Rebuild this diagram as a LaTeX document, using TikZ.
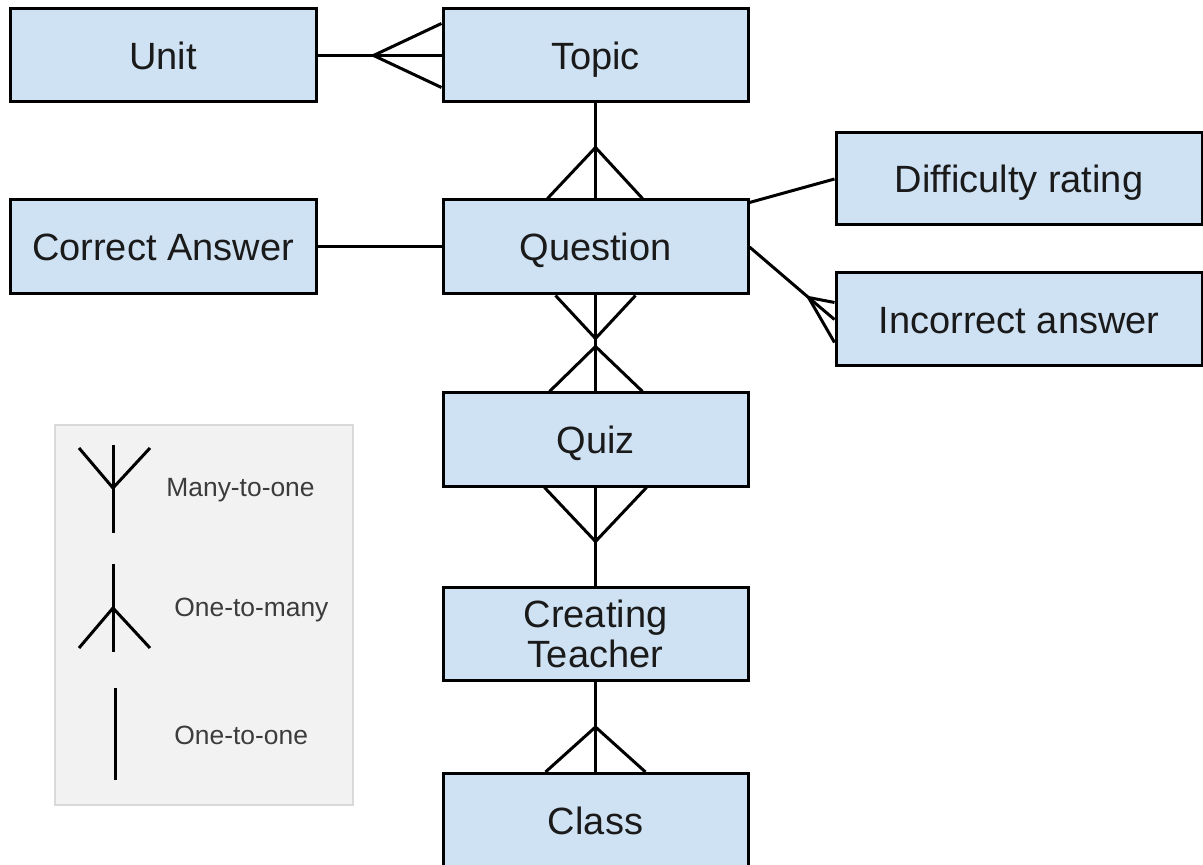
\documentclass[tikz,border=0pt]{standalone}
\usepackage{fontspec}
\setmainfont{Liberation Sans}
\usetikzlibrary{calc}
\definecolor{boxfill}{HTML}{CFE2F3}
\definecolor{legfill}{HTML}{F2F2F2}
\definecolor{legline}{HTML}{D9D9D9}
\definecolor{ink}{HTML}{1A1A1A}
\begin{document}
\begin{tikzpicture}[x=0.5pt,y=-0.5pt,
  entity/.style={draw=black,line width=1.5pt,fill=boxfill,rectangle,
    inner sep=0pt,align=center,text=ink,
    font=\fontsize{19}{20}\selectfont},
  oneline/.style={entity,text height=13.6pt,text depth=0pt},
  conn/.style={draw=black,line width=1.5pt,line join=miter},
  legtext/.style={anchor=west,inner sep=0pt,text=ink!85,
    font=\fontsize{13.2}{15}\selectfont}]
\useasboundingbox (0,0) rectangle (1203,865);

% entities
\node[oneline,minimum width=153pt,minimum height=46.5pt] (unit) at (163,55.5) {Unit};
\node[oneline,minimum width=152.5pt,minimum height=46.5pt] (topic) at (595.5,55.5) {Topic};
\node[oneline,minimum width=183pt,minimum height=46pt] (difficulty) at (1019,179) {Difficulty rating};
\node[oneline,minimum width=153pt,minimum height=47pt] (correct) at (163,247) {Correct Answer};
\node[oneline,minimum width=152.5pt,minimum height=47pt] (question) at (595.5,247) {Question};
\node[oneline,minimum width=183pt,minimum height=46.5pt] (incorrect) at (1019,319.5) {Incorrect answer};
\node[oneline,minimum width=152.5pt,minimum height=46.5pt] (quiz) at (595.5,439.5) {Quiz};
\node[entity,minimum width=152.5pt,minimum height=46.5pt] (teacher) at (595.5,633.5) {Creating\\Teacher};
\node[oneline,minimum width=152.5pt,minimum height=47pt] (class) at (595.5,820.5) {Class};

% Unit -- Topic (many topics per unit)
\draw[conn] (unit.east) -- (topic.west);
\coordinate (ut) at ($(topic.west)+(-68,0)$);
\draw[conn] ($(topic.west)+(0,-32)$) -- (ut) -- ($(topic.west)+(0,32)$);

% Topic -- Question
\draw[conn] (topic.south) -- (question.north);
\coordinate (tq) at ($(question.north)+(0,-51)$);
\draw[conn] ($(question.north)+(-48,0)$) -- (tq) -- ($(question.north)+(47,0)$);

% Question -- Quiz (many on both sides)
\draw[conn] (question.south) -- (quiz.north);
\coordinate (qa) at ($(question.south)+(0,43)$);
\draw[conn] ($(question.south)+(-40,0)$) -- (qa) -- ($(question.south)+(40,0)$);
\coordinate (qb) at ($(quiz.north)+(0,-45)$);
\draw[conn] ($(quiz.north)+(-46,0)$) -- (qb) -- ($(quiz.north)+(47,0)$);

% Quiz -- Creating Teacher
\draw[conn] (quiz.south) -- (teacher.north);
\coordinate (qt) at ($(quiz.south)+(0,54)$);
\draw[conn] ($(quiz.south)+(-51,0)$) -- (qt) -- ($(quiz.south)+(51,0)$);

% Creating Teacher -- Class
\draw[conn] (teacher.south) -- (class.north);
\coordinate (tc) at ($(class.north)+(0,-45)$);
\draw[conn] ($(class.north)+(-50,0)$) -- (tc) -- ($(class.north)+(50,0)$);

% Correct Answer -- Question
\draw[conn] (correct.east) -- (question.west);

% Question -- Difficulty rating
\draw[conn] ($(question.north east)+(0,4)$) -- (difficulty.west);

% Question -- Incorrect answer
\coordinate (qi) at ($(incorrect.west)+(-26,-22)$);
\draw[conn] (question.east) -- (qi) -- (incorrect.west);
\draw[conn] ($(incorrect.west)+(0,-17)$) -- (qi) -- ($(incorrect.west)+(0,23)$);

% legend
\node[draw=legline,fill=legfill,line width=1pt,rectangle,inner sep=0pt,
  minimum width=149pt,minimum height=190pt] (legend) at (204,615) {};
\draw[conn] (113,445) -- (113,533);
\draw[conn] (79,448) -- (113,488) -- (150,448);
\node[legtext] (lmany) at (166,490) {Many-to-one};
\draw[conn] (113,564) -- (113,652);
\draw[conn] (79,648) -- (113,608) -- (150,648);
\node[legtext] (lonemany) at (174,610) {One-to-many};
\draw[conn] (115,688) -- (115,780);
\node[legtext] (loneone) at (174,735) {One-to-one};
\end{tikzpicture}
\end{document}
